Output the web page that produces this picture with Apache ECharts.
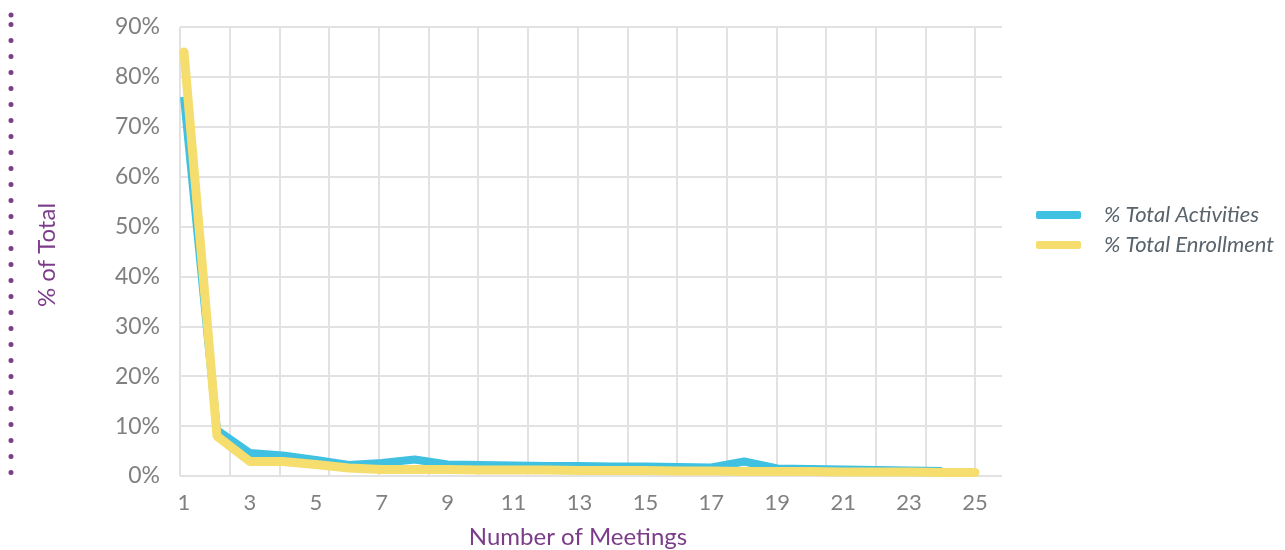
<!DOCTYPE html>
<html>
<head>
<meta charset="utf-8">
<script src="https://cdn.jsdelivr.net/npm/echarts@6/dist/echarts.min.js"></script>
<style>
html,body{margin:0;padding:0;background:#fff;}
#c{width:1285px;height:550px;}
</style>
</head>
<body>
<div id="c"></div>
<script>
var meetings = ['1','2','3','4','5','6','7','8','9','10','11','12','13','14','15','16','17','18','19','20','21','22','23','24','25'];
var activities = [76, 9.2, 4.6, 4.1, 3.2, 2.2, 2.6, 3.3, 2.3, 2.2, 2.1, 2.0, 2.0, 1.9, 1.9, 1.8, 1.7, 2.9, 1.5, 1.4, 1.3, 1.2, 1.1, 1.0];
var enrollment = [85, 8.0, 2.9, 2.9, 2.3, 1.6, 1.3, 1.3, 1.3, 1.2, 1.2, 1.2, 1.1, 1.1, 1.1, 1.0, 1.0, 0.9, 0.9, 0.9, 0.8, 0.8, 0.8, 0.7, 0.7];
var seriesNames = ['% Total Activities', '% Total Enrollment'];
var yTicks = [0, 10, 20, 30, 40, 50, 60, 70, 80, 90];

var purple = '#7b3d8a';
var font = 'Lato';
var chart = echarts.init(document.getElementById('c'));
chart.setOption({
  animation: false,
  backgroundColor: '#fff',
  textStyle: {fontFamily: font},
  grid: [
    {left: 180, right: 283, top: 27, bottom: 74},
    {left: 184, right: 310, top: 27, bottom: 74}
  ],
  xAxis: [
    {gridIndex: 0, type: 'value', min: 0, max: 16.54, interval: 1,
     axisLabel: {show: false}, axisLine: {show: false}, axisTick: {show: false},
     splitLine: {show: true, showMaxLine: false, lineStyle: {color: '#e2e2e2', width: 2}}},
    {gridIndex: 1, type: 'category', data: meetings, boundaryGap: false,
     axisLine: {show: false}, axisTick: {show: false}, splitLine: {show: false},
     axisLabel: {interval: 1, fontSize: 22, color: '#808080', margin: 16, fontFamily: font}}
  ],
  yAxis: [
    {gridIndex: 0, type: 'value', min: yTicks[0], max: yTicks[yTicks.length-1], interval: 10,
     axisLine: {show: false}, axisTick: {show: false},
     axisLabel: {formatter: '{value}%', fontSize: 23, color: '#808080', margin: 20, fontFamily: font},
     splitLine: {show: true, lineStyle: {color: '#e2e2e2', width: 2}}},
    {gridIndex: 1, type: 'value', min: 0, max: 90, show: false, splitLine: {show: false}}
  ],
  legend: {
    orient: 'vertical', left: 1031, top: 199, itemWidth: 45, itemHeight: 8, itemGap: 8,
    icon: 'roundRect',
    data: seriesNames,
    textStyle: {fontSize: 22, fontStyle: 'italic', color: '#59636c', fontFamily: font, padding: [0,0,0,18], lineHeight: 22}
  },
  graphic: [
    {type: 'text', x: 578, y: 537, style: {text: 'Number of Meetings', fill: purple, font: '24px Lato', textAlign: 'center', textVerticalAlign: 'middle'}},
    {type: 'text', x: 47, y: 255, rotation: Math.PI/2, style: {text: '% of Total', fill: purple, font: '24px Lato', textAlign: 'center', textVerticalAlign: 'middle'}},
    {type: 'line', shape: {x1: 11, y1: 24.5, x2: 11, y2: 476}, style: {stroke: purple, lineWidth: 5, lineDash: [0, 16], lineCap: 'round'}},
    {type: 'circle', shape: {cx: 11, cy: 15, r: 2.5}, style: {fill: purple}}
  ],
  series: [
    {name: seriesNames[0], type: 'line', xAxisIndex: 1, yAxisIndex: 1, data: activities, showSymbol: false,
     itemStyle: {color: '#41c1e1'}, lineStyle: {width: 8, color: '#41c1e1'}},
    {name: seriesNames[1], type: 'line', xAxisIndex: 1, yAxisIndex: 1, data: enrollment, showSymbol: false,
     itemStyle: {color: '#f5dd6e'}, lineStyle: {width: 9, color: '#f5dd6e', cap: 'round'}}
  ]
});
</script>
</body>
</html>
